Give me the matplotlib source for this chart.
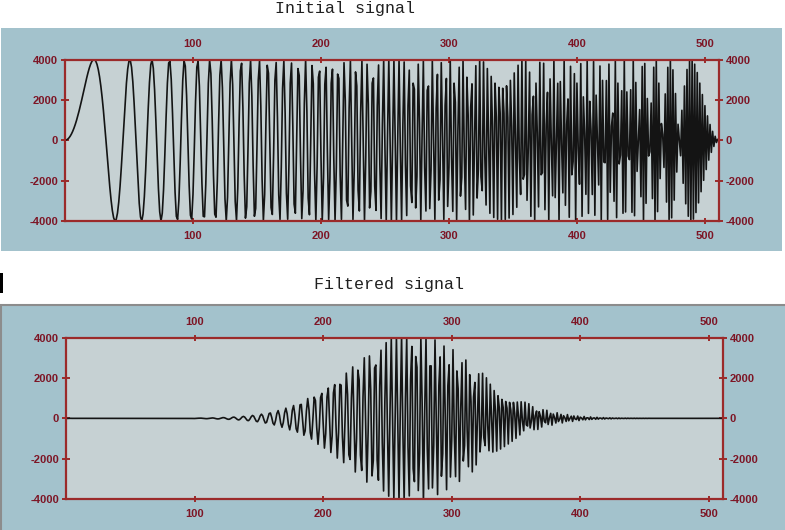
import matplotlib
matplotlib.use("Agg")
import matplotlib.pyplot as plt
from matplotlib.patches import Rectangle
import numpy as np

# signal parameters (chirp, 512 samples, +-4000)
N_SAMPLES = 512
AMPLITUDE = 4000
# gaussian band-pass in FFT bins (centre ~ sample 270, spread ~ 150..390)
BAND_CENTER = 135
BAND_SIGMA = 24
FILTER_GAIN = 1.05

titles = ["Initial signal", "Filtered signal"]
x_ticks = [100, 200, 300, 400, 500]
y_ticks = [-4000, -2000, 0, 2000, 4000]
x_limits = [0, 511]
y_limits = [-4000, 4000]

n = np.arange(N_SAMPLES)
initial = AMPLITUDE * np.sin(np.pi * n**2 / (2 * N_SAMPLES))

spec = np.fft.rfft(initial)
k = np.arange(len(spec))
gain = FILTER_GAIN * np.exp(-0.5 * ((k - BAND_CENTER) / BAND_SIGMA) ** 2)
filtered = np.fft.irfft(spec * gain, n=N_SAMPLES)

panel_bg = "#a3c2cc"
plot_bg = "#c6d1d3"
spine_col = "#9b2a2a"
label_col = "#7d1525"

plt.rcParams["axes.unicode_minus"] = False
W, H = 785, 530
fig = plt.figure(figsize=(W / 100, H / 100), dpi=100)
fig.patch.set_facecolor("white")

def fx(px):
    return px / W

def fy(py):
    return 1 - py / H

# panel backgrounds (below the axes)
fig.patches.append(Rectangle((fx(1), fy(251)), fx(781), 223 / H,
                             transform=fig.transFigure, facecolor=panel_bg,
                             edgecolor="none", zorder=-2))
fig.patches.append(Rectangle((fx(1), fy(532)), fx(790), 227 / H,
                             transform=fig.transFigure, facecolor=panel_bg,
                             edgecolor="#8c8c8c", lw=1.5, zorder=-2))
# little black mark on the left
fig.patches.append(Rectangle((0, fy(293)), fx(3), 20 / H,
                             transform=fig.transFigure, facecolor="black",
                             edgecolor="none", zorder=-1))

boxes = [(65, 59.5, 719, 221), (66, 337.7, 723, 499)]
series = [initial, filtered]
title_pos = [(345, 8), (389, 284)]

for (l, t, r, b), data, title, (tx, ty) in zip(boxes, series, titles, title_pos):
    ax = fig.add_axes([fx(l), fy(b), (r - l) / W, (b - t) / H])
    ax.set_facecolor(plot_bg)
    ax.plot(n, data, color="#141414", lw=1.2)
    ax.set_xlim(x_limits)
    ax.set_ylim(y_limits)
    ax.set_xticks(x_ticks)
    ax.set_yticks(y_ticks)
    ax.set_xticklabels([str(v) for v in x_ticks])
    ax.set_yticklabels([str(v) for v in y_ticks])
    for s in ax.spines.values():
        s.set_color(spine_col)
        s.set_linewidth(1.6)
    ax.tick_params(axis="x", which="both", top=True, labeltop=True,
                   direction="inout", length=5, width=1.4, color=spine_col,
                   labelcolor=label_col, labelsize=8, pad=5)
    ax.tick_params(axis="y", which="both", right=True, labelright=True,
                   direction="inout", length=6, width=1.4, color=spine_col,
                   labelcolor=label_col, labelsize=8, pad=2)
    for lab in ax.get_xticklabels() + ax.get_yticklabels():
        lab.set_family("Liberation Sans")
        lab.set_fontweight("bold")
    fig.text(fx(tx), fy(ty), title, ha="center", va="center",
             family="Liberation Mono", fontsize=12, color="#202020")

fig.savefig("out.png", dpi=100, facecolor=fig.get_facecolor())
